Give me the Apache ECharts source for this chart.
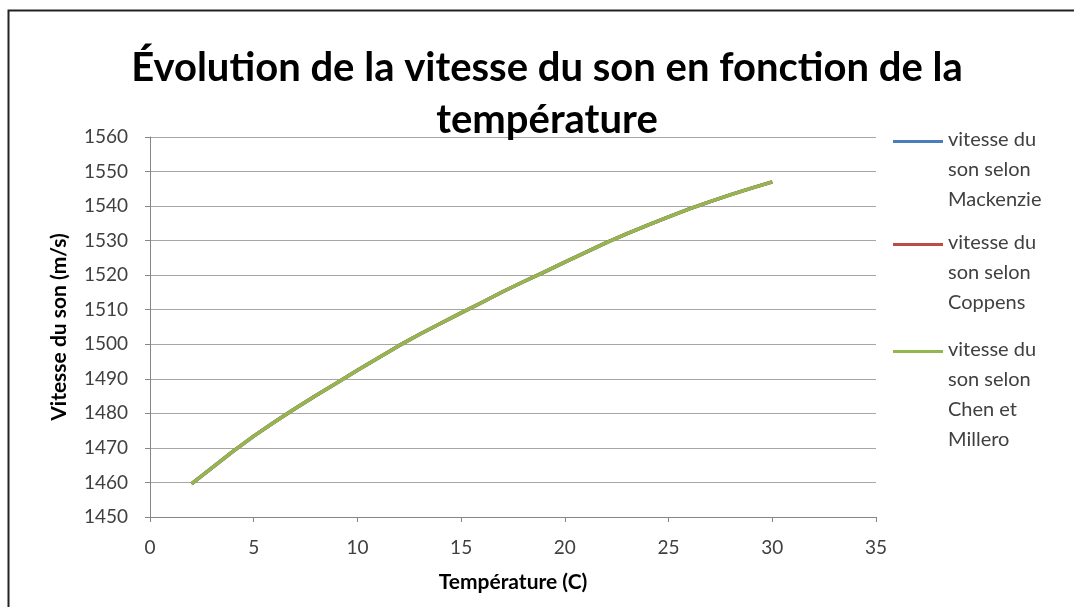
<!DOCTYPE html>
<html>
<head>
<meta charset="utf-8">
<script src="https://cdn.jsdelivr.net/npm/echarts@6/dist/echarts.min.js"></script>
<style>
  html, body { margin: 0; padding: 0; background: #fff; }
  #chart { width: 1074px; height: 607px; }
</style>
</head>
<body>
<div id="chart"></div>
<script>
// temperature (C)
var temperatures = [2, 3, 4, 5, 6, 7, 8, 9, 10, 11, 12, 13, 14, 15, 16, 17, 18, 19, 20, 21, 22, 23, 24, 25, 26, 27, 28, 29, 30]
// speed of sound (m/s), the three curves overlap in the picture
var mackenzie = [1459.6, 1464.3, 1469.0, 1473.4, 1477.5, 1481.4, 1485.2, 1488.8, 1492.5, 1496.0, 1499.6, 1502.9, 1506.0, 1509.1, 1512.1, 1515.2, 1518.1, 1520.9, 1523.8, 1526.6, 1529.4, 1532.0, 1534.5, 1536.9, 1539.2, 1541.3, 1543.3, 1545.2, 1547.0]
var coppens = [1459.6, 1464.3, 1469.0, 1473.4, 1477.5, 1481.4, 1485.2, 1488.8, 1492.5, 1496.0, 1499.6, 1502.9, 1506.0, 1509.1, 1512.1, 1515.2, 1518.1, 1520.9, 1523.8, 1526.6, 1529.4, 1532.0, 1534.5, 1536.9, 1539.2, 1541.3, 1543.3, 1545.2, 1547.0]
var chenMillero = [1459.6, 1464.3, 1469.0, 1473.4, 1477.5, 1481.4, 1485.2, 1488.8, 1492.5, 1496.0, 1499.6, 1502.9, 1506.0, 1509.1, 1512.1, 1515.2, 1518.1, 1520.9, 1523.8, 1526.6, 1529.4, 1532.0, 1534.5, 1536.9, 1539.2, 1541.3, 1543.3, 1545.2, 1547.0]

var seriesNames = ['vitesse du\nson selon\nMackenzie', 'vitesse du\nson selon\nCoppens', 'vitesse du\nson selon\nChen et\nMillero']
var seriesColors = ['#4A7EBB', '#BE4B48', '#94B64E']
var seriesValues = [mackenzie, coppens, chenMillero]

var FONT = 'Lato, "Open Sans", sans-serif'

var chart = echarts.init(document.getElementById('chart'))

function pairs(values) {
	return values.map(function (v, i) {
		return [temperatures[i], v]
	})
}

var series = []
seriesValues.map(function (values, index) {
	series.push({
		name: seriesNames[index],
		type: 'line',
		showSymbol: false,
		symbol: 'none',
		smooth: false,
		lineStyle: {
			width: 3.5,
			color: seriesColors[index],
		},
		itemStyle: { color: seriesColors[index] },
		animation: false,
		data: pairs(values),
	})
})

// one legend per item: the icon box spans from the first text line down,
// the line is drawn at the top of that box (Excel style)
function legendFor(index, firstLineY, lines) {
	var boxH = (lines - 1) * 30
	return {
		orient: 'vertical',
		left: 893,
		top: firstLineY - 15,
		padding: 0,
		itemWidth: 50,
		itemHeight: boxH,
		icon: 'path://M0,0L50,0L50,3L0,3Z M0,' + boxH + 'L0.01,' + boxH + 'L0,' + boxH + 'Z',
		itemStyle: { borderWidth: 0 },
		selectedMode: false,
		data: [seriesNames[index]],
		textStyle: {
			fontFamily: FONT,
			fontSize: 20,
			color: '#404040',
			lineHeight: 30,
		},
	}
}

var options = {
	backgroundColor: '#fff',
	title: {
		text: 'Évolution de la vitesse du son en fonction de la\ntempérature',
		left: 542,
		top: 37,
		textAlign: 'center',
		textStyle: {
			fontFamily: FONT,
			fontSize: 40,
			fontWeight: 'bold',
			color: '#000',
			lineHeight: 52,
		},
	},
	legend: [
		legendFor(0, 140, 3),
		legendFor(1, 243, 3),
		legendFor(2, 350, 4),
	],
	grid: {
		left: 150,
		right: 198,
		top: 137,
		bottom: 90,
		containLabel: false,
	},
	xAxis: {
		type: 'value',
		min: 0,
		max: 35,
		interval: 5,
		name: 'Température (C)',
		nameLocation: 'middle',
		nameGap: 55,
		nameTextStyle: {
			fontFamily: FONT,
			fontSize: 21,
			fontWeight: 'bold',
			color: '#000',
		},
		axisLine: { show: true, lineStyle: { color: '#868686', width: 1 } },
		axisTick: { show: true, inside: false, length: 5, lineStyle: { color: '#868686' } },
		axisLabel: { margin: 21, fontFamily: FONT, fontSize: 19, color: '#404040' },
		splitLine: { show: false },
	},
	yAxis: {
		type: 'value',
		min: 1450,
		max: 1560,
		interval: 10,
		name: 'Vitesse du son (m/s)',
		nameLocation: 'middle',
		nameGap: 80,
		nameTextStyle: {
			fontFamily: FONT,
			fontSize: 21,
			fontWeight: 'bold',
			color: '#000',
		},
		axisLine: { show: true, lineStyle: { color: '#868686', width: 1 } },
		axisTick: { show: true, inside: false, length: 5, lineStyle: { color: '#868686' } },
		axisLabel: {
			margin: 22,
			fontFamily: FONT,
			fontSize: 19,
			color: '#404040',
			formatter: function (v) {
				return String(v)
			},
		},
		splitLine: { show: true, lineStyle: { color: '#a6a6a6', width: 1 } },
	},
	graphic: [
		{
			type: 'rect',
			left: 6,
			top: 8,
			shape: { width: 1100, height: 640 },
			style: { fill: 'none', stroke: '#222', lineWidth: 2 },
			silent: true,
			z: 100,
		},
	],
	series: series,
}
chart.setOption(options, true)
</script>
</body>
</html>
